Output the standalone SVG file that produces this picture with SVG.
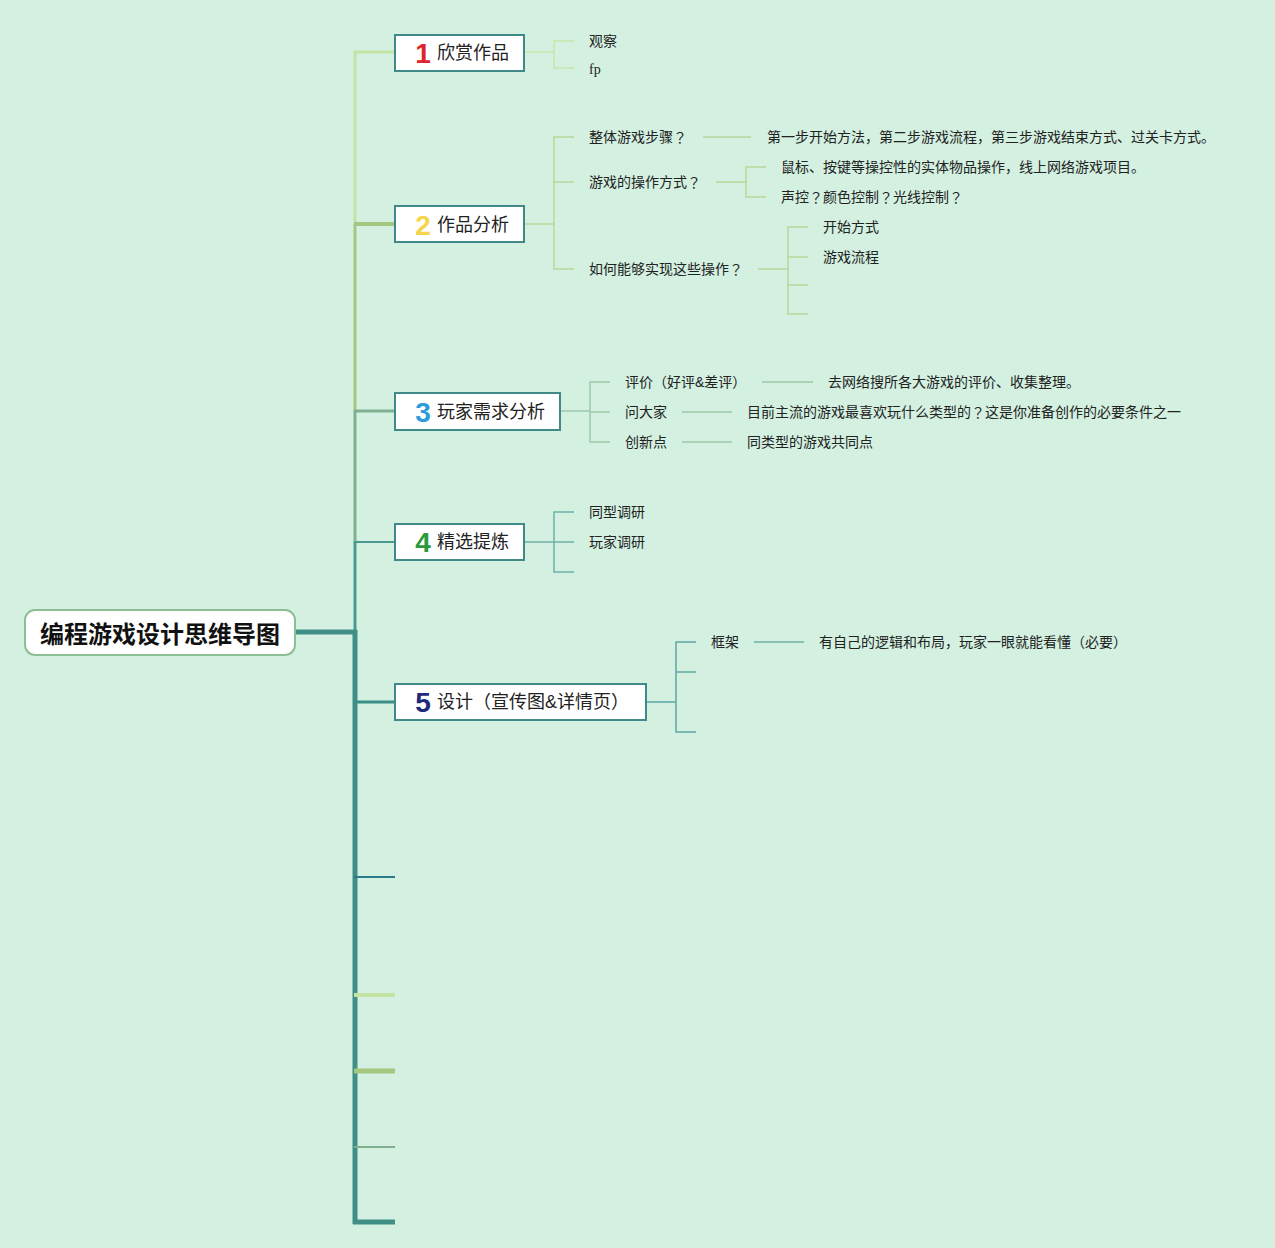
<svg xmlns="http://www.w3.org/2000/svg" width="1275" height="1248" viewBox="0 0 1275 1248">
<style>
.bg{fill:#d3f0e1}
.node rect{fill:#ffffff;stroke:#3f8a88;stroke-width:2}
.t{font-family:"Liberation Sans","Noto Sans CJK SC",sans-serif;fill:#222;dominant-baseline:central}
.sub{font-size:14px}
.main{font-size:18px}
.num{font-family:"Liberation Sans",sans-serif;font-weight:bold;font-size:28px;dominant-baseline:central;text-anchor:middle}
.root{font-size:24px;font-weight:bold;fill:#111}
.q{font-family:"Noto Sans CJK JP","Noto Sans CJK SC",sans-serif}
.c path, .c line{fill:none}
</style>
<rect class="bg" x="0" y="0" width="1275" height="1248"/>

<g id="connectors" class="c">
  <line x1="295" y1="632" x2="357" y2="632" stroke="#3f8f87" stroke-width="5"/>
  <line x1="355" y1="51" x2="355" y2="225" stroke="#c5e3a5" stroke-width="3"/>
  <line x1="355" y1="224" x2="355" y2="412" stroke="#a5c880" stroke-width="3"/>
  <line x1="355" y1="411" x2="355" y2="543" stroke="#80b090" stroke-width="3"/>
  <line x1="355" y1="542" x2="355" y2="632" stroke="#4a9a92" stroke-width="3"/>
  <line x1="355" y1="630" x2="355" y2="1224" stroke="#3f8f87" stroke-width="5"/>
  <line x1="354" y1="52" x2="395" y2="52" stroke="#c5e3a5" stroke-width="3"/>
  <line x1="354" y1="224" x2="395" y2="224" stroke="#a5c880" stroke-width="4"/>
  <line x1="354" y1="411" x2="395" y2="411" stroke="#80b090" stroke-width="3"/>
  <line x1="354" y1="542" x2="395" y2="542" stroke="#4a9a92" stroke-width="2"/>
  <line x1="354" y1="702" x2="395" y2="702" stroke="#3a8f8a" stroke-width="3"/>
  <line x1="354" y1="877" x2="395" y2="877" stroke="#2a7a88" stroke-width="2"/>
  <line x1="354" y1="995" x2="395" y2="995" stroke="#c5e3a5" stroke-width="4"/>
  <line x1="354" y1="1071" x2="395" y2="1071" stroke="#a5c880" stroke-width="5"/>
  <line x1="354" y1="1147" x2="395" y2="1147" stroke="#80b090" stroke-width="2"/>
  <line x1="353" y1="1222" x2="395" y2="1222" stroke="#3f8f87" stroke-width="5"/>

  <path d="M524 52H554M574 41H554V68H574" stroke="#c8e6ac" stroke-width="1.5"/>
  <path d="M524 224H554M574 137H554V269H574M554 182H574" stroke="#b5d99a" stroke-width="1.5"/>
  <line x1="703" y1="137" x2="751" y2="137" stroke="#b5d99a" stroke-width="1.5"/>
  <path d="M716 182H746M766 167H746V197H766" stroke="#b5d99a" stroke-width="1.5"/>
  <path d="M758 269H788M808 227H788V314H808M788 257H808M788 285H808" stroke="#b5d99a" stroke-width="1.5"/>
  <path d="M560 411H590M610 382H590V442H610M590 412H610" stroke="#9cc8a8" stroke-width="1.5"/>
  <line x1="762" y1="382" x2="813" y2="382" stroke="#9cc8a8" stroke-width="1.5"/>
  <line x1="682" y1="412" x2="732" y2="412" stroke="#9cc8a8" stroke-width="1.5"/>
  <line x1="682" y1="442" x2="732" y2="442" stroke="#9cc8a8" stroke-width="1.5"/>
  <path d="M524 542H554M574 512H554V572H574M554 542H574" stroke="#6fb0a8" stroke-width="1.5"/>
  <path d="M646 702H676M696 642H676V732H696M676 672H696" stroke="#5fa8a2" stroke-width="1.5"/>
  <line x1="754" y1="642" x2="804" y2="642" stroke="#6fb0a8" stroke-width="1.5"/>
</g>

<g id="root" class="node">
  <rect x="25" y="610" width="270" height="45" rx="10" style="stroke:#8cbf94"/>
  <text class="t root" x="160" y="634" text-anchor="middle">编程游戏设计思维导图</text>
</g>

<g id="n1" class="node">
  <rect x="395" y="35" width="129" height="36"/>
  <text class="num" x="423" y="53" fill="#e0232e">1</text>
  <text class="t main" x="437" y="53">欣赏作品</text>
</g>
<g id="n2" class="node">
  <rect x="395" y="206" width="129" height="36"/>
  <text class="num" x="423" y="225" fill="#f6d54a">2</text>
  <text class="t main" x="437" y="225">作品分析</text>
</g>
<g id="n3" class="node">
  <rect x="395" y="393" width="165" height="37"/>
  <text class="num" x="423" y="412" fill="#2b9bdb">3</text>
  <text class="t main" x="437" y="412">玩家需求分析</text>
</g>
<g id="n4" class="node">
  <rect x="395" y="524" width="129" height="36"/>
  <text class="num" x="423" y="542" fill="#2a9b3a">4</text>
  <text class="t main" x="437" y="542">精选提炼</text>
</g>
<g id="n5" class="node">
  <rect x="395" y="684" width="251" height="36"/>
  <text class="num" x="423" y="702" fill="#1f2a7c">5</text>
  <text class="t main" x="437" y="702">设计（宣传图&amp;详情页）</text>
</g>

<g id="s1">
  <text class="t sub" x="589" y="41">观察</text>
  <text class="t sub" x="589" y="69" style="font-family:'Liberation Serif',serif">fp</text>
</g>
<g id="s2">
  <text class="t sub" x="589" y="137">整体游戏步骤<tspan class="q">？</tspan></text>
  <text class="t sub" x="767" y="137">第一步开始方法，第二步游戏流程，第三步游戏结束方式、过关卡方式。</text>
  <text class="t sub" x="589" y="182">游戏的操作方式<tspan class="q">？</tspan></text>
  <text class="t sub" x="781" y="167">鼠标、按键等操控性的实体物品操作，线上网络游戏项目。</text>
  <text class="t sub" x="781" y="197">声控<tspan class="q">？</tspan>颜色控制<tspan class="q">？</tspan>光线控制<tspan class="q">？</tspan></text>
  <text class="t sub" x="589" y="269">如何能够实现这些操作<tspan class="q">？</tspan></text>
  <text class="t sub" x="823" y="227">开始方式</text>
  <text class="t sub" x="823" y="257">游戏流程</text>
</g>
<g id="s3">
  <text class="t sub" x="625" y="382">评价（好评&amp;差评）</text>
  <text class="t sub" x="828" y="382">去网络搜所各大游戏的评价、收集整理。</text>
  <text class="t sub" x="625" y="412">问大家</text>
  <text class="t sub" x="747" y="412">目前主流的游戏最喜欢玩什么类型的<tspan class="q">？</tspan>这是你准备创作的必要条件之一</text>
  <text class="t sub" x="625" y="442">创新点</text>
  <text class="t sub" x="747" y="442">同类型的游戏共同点</text>
</g>
<g id="s4">
  <text class="t sub" x="589" y="512">同型调研</text>
  <text class="t sub" x="589" y="542">玩家调研</text>
</g>
<g id="s5">
  <text class="t sub" x="711" y="642">框架</text>
  <text class="t sub" x="819" y="642">有自己的逻辑和布局，玩家一眼就能看懂（必要）</text>
</g>
</svg>
